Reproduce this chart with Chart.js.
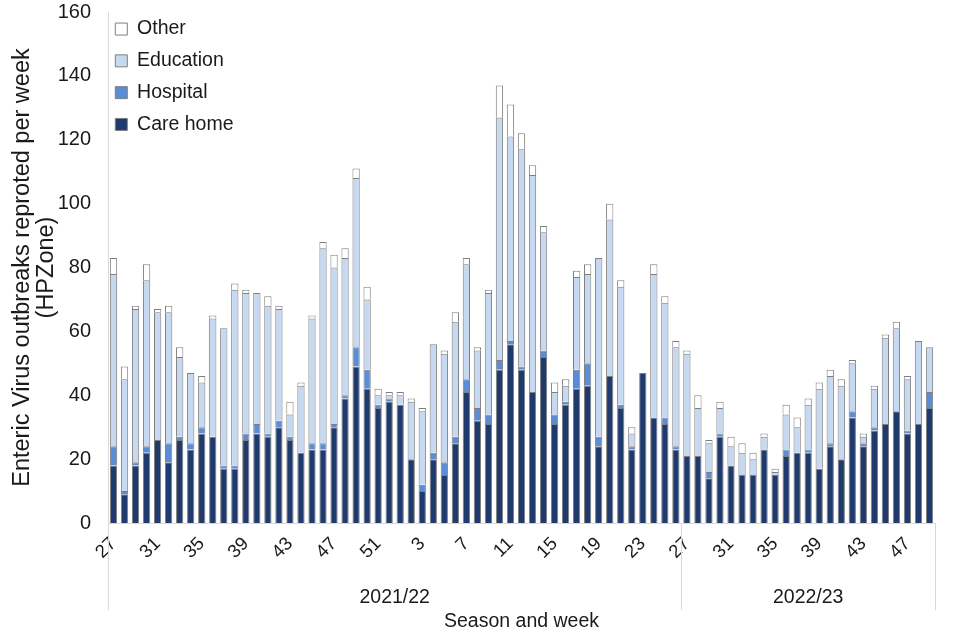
<!DOCTYPE html>
<html><head><meta charset="utf-8">
<script src="https://cdn.jsdelivr.net/npm/chart.js@4"></script>
<style>html,body{margin:0;padding:0;background:#fff}</style>
</head><body>
<canvas id="c" width="960" height="640"></canvas>
<script>
// ---- data ----
const weeks = ["27","28","29","30","31","32","33","34","35","36","37","38","39","40","41","42","43","44","45","46","47","48","49","50","51","52",
  "1","2","3","4","5","6","7","8","9","10","11","12","13","14","15","16","17","18","19","20","21","22","23","24","25","26",
  "27","28","29","30","31","32","33","34","35","36","37","38","39","40","41","42","43","44","45","46","47","48","49"];
const careHome = [18,9,18,22,26,19,26,23,28,27,17,17,26,28,27,30,26,22,23,23,30,39,49,42,36,38,37,20,10,20,15,25,41,32,31,48,56,48,41,52,31,37,42,43,24,46,36,23,47,33,31,23,
  21,21,14,27,18,15,15,23,15,21,22,22,17,24,20,33,24,29,31,35,28,31,36];
const hospital = [6,1,1,2,0,6,1,2,2,0,1,1,2,3,1,2,1,0,2,2,1,1,6,6,1,1,0,0,2,2,4,2,4,4,3,3,1,1,0,2,3,1,6,7,3,0,1,1,0,0,2,1,
  0,0,2,1,0,0,0,0,0,2,0,1,0,1,0,2,1,1,0,0,1,0,5];
const education = [54,35,48,52,40,41,25,22,14,37,43,55,44,41,40,35,7,21,39,61,49,43,53,22,3,1,3,18,23,34,34,36,36,18,38,76,64,68,68,37,7,5,29,28,56,49,37,4,0,45,36,31,
  32,15,9,8,6,7,5,4,1,11,8,14,25,21,23,15,2,12,27,26,16,26,14];
const other = [5,4,1,5,1,2,3,0,2,1,0,2,1,0,3,1,4,1,1,2,4,3,3,4,2,1,1,1,1,0,1,3,2,1,1,10,10,5,3,2,3,2,2,3,0,5,2,2,0,3,2,2,
  1,4,1,2,3,3,2,1,1,3,3,2,2,2,2,1,1,1,1,2,1,0,0];
const seasons = ["2021/22","2022/23"];
const seasonStart = [0,52];
const seasonEnd = [51,74];
const yTicks = {min:0, max:160, step:20};

// ---- fonts ----
const HFAM = "'Liberation Sans', Arial, sans-serif";
const HSIZE = 19.5;
const TXT = '#1a1a1a';

const seasonPlugin = {
  id: 'seasonAxis',
  afterLayout(chart) {
    if (chart.legend) { chart.legend.left -= 5; chart.legend.right -= 5; }
  },
  afterDraw(chart) {
    const x = chart.scales.x, ctx = chart.ctx, ca = chart.chartArea;
    ctx.save();
    ctx.strokeStyle = '#d9d9d9';
    ctx.lineWidth = 1;
    const seps = [-0.5, seasonEnd[0] + 0.5, seasonEnd[1] + 0.5];
    seps.forEach(v => {
      const px = Math.round(x.getPixelForValue(v)) + 0.5;
      ctx.beginPath(); ctx.moveTo(px, ca.bottom); ctx.lineTo(px, 610); ctx.stroke();
    });
    ctx.fillStyle = TXT;
    ctx.font = HSIZE + 'px ' + HFAM;
    ctx.textAlign = 'center'; ctx.textBaseline = 'middle';
    seasons.forEach((s, i) => {
      const px = x.getPixelForValue((seasonStart[i] + seasonEnd[i]) / 2);
      ctx.fillText(s, px, 598);
    });
    ctx.restore();
  }
};

const border = '#7f7f7f';
const ds = (label, data, color) => ({label, data, backgroundColor: color, borderColor: border, borderWidth: 1,
  barPercentage: 0.66, categoryPercentage: 1.0});

new Chart(document.getElementById('c'), {
  type: 'bar',
  data: {
    labels: weeks,
    datasets: [
      ds('Care home', careHome, '#1f3a6c'),
      ds('Hospital', hospital, '#5b8dd6'),
      ds('Education', education, '#c6d9f1'),
      ds('Other', other, '#ffffff')
    ]
  },
  options: {
    responsive: false,
    animation: false,
    layout: {padding: {top: 12, right: 25, left: 0, bottom: 0}},
    plugins: {
      legend: {
        position: 'chartArea', align: 'start', reverse: true,
        title: {display: true, text: ' ', padding: 0, font: {size: 7, lineHeight: 1.0}},
        labels: {boxWidth: 12, boxHeight: 12, padding: 12.3, color: TXT, font: {family: HFAM, size: HSIZE}}
      },
      tooltip: {enabled: false}
    },
    scales: {
      x: {
        stacked: true,
        grid: {display: false},
        border: {display: true, color: '#d9d9d9'},
        ticks: {
          autoSkip: false, maxRotation: 45, minRotation: 45, padding: 2, color: TXT,
          font: {family: HFAM, size: HSIZE - 1},
          callback: (v, i) => (i % 4 === 0 ? weeks[i] : '')
        },
        title: {display: true, text: 'Season and week', color: TXT,
          font: {family: HFAM, size: HSIZE, lineHeight: 1.2}, padding: {top: 0, bottom: 7}},
        afterFit: s => { s.height = 117; }
      },
      y: {
        stacked: true,
        min: yTicks.min, max: yTicks.max,
        grid: {display: false},
        border: {display: true, color: '#d9d9d9'},
        ticks: {stepSize: yTicks.step, padding: 9, color: TXT, font: {family: HFAM, size: HSIZE + 0.5}},
        title: {display: true, text: ['Enteric Virus outbreaks reproted per week', '(HPZone)'], color: TXT,
          font: {family: HFAM, size: 23.5, lineHeight: 1.0}, padding: {top: 11, bottom: 0}},
        afterFit: s => { s.width = 108; s.paddingTop = 0; s.paddingBottom = 0; }
      }
    }
  },
  plugins: [seasonPlugin]
});
</script>
</body></html>
